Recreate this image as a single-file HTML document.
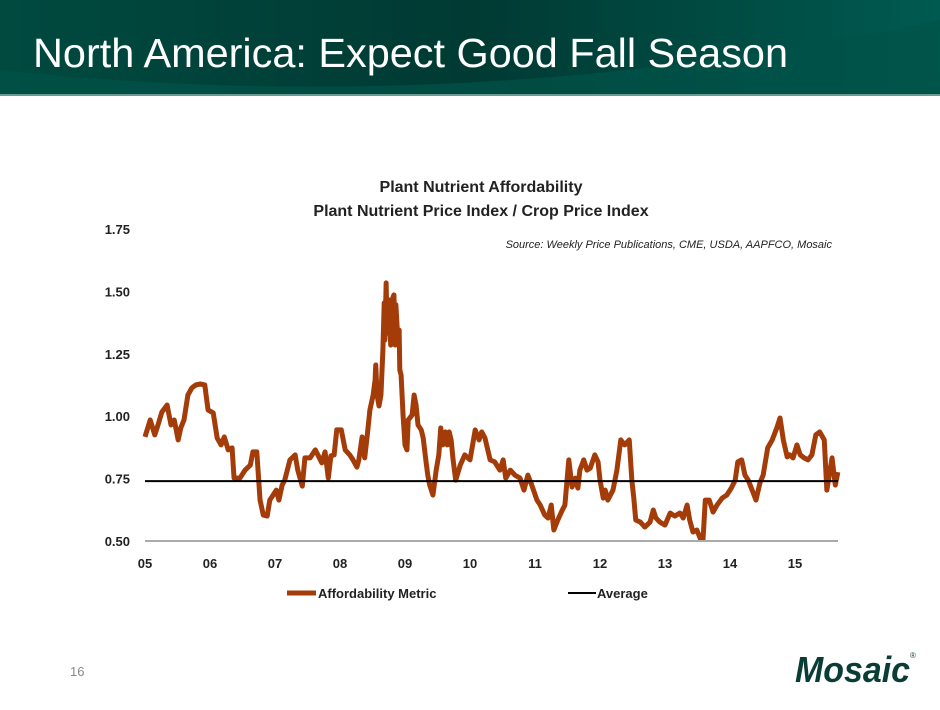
<!DOCTYPE html>
<html><head><meta charset="utf-8"><style>
body{margin:0;width:940px;height:705px;overflow:hidden;background:#fff;font-family:"Liberation Sans",sans-serif;}
</style></head><body>
<svg width="940" height="705" viewBox="0 0 940 705" xmlns="http://www.w3.org/2000/svg">
<defs><linearGradient id="hg" x1="0" y1="0" x2="1" y2="0"><stop offset="0" stop-color="#004a40"/><stop offset="0.5" stop-color="#003a33"/><stop offset="1" stop-color="#005a50"/></linearGradient></defs>
<g>
<rect x="0" y="0" width="940" height="95" fill="url(#hg)"/>
<path d="M0,70 Q470,120 940,20 L940,95 L0,95 Z" fill="#005248" opacity="0.7"/>
<rect x="0" y="94" width="940" height="2" fill="#6a9a94"/>
<text x="33" y="67" fill="#fff" font-size="41" textLength="755" lengthAdjust="spacingAndGlyphs">North America: Expect Good Fall Season</text>
</g>
<text x="481" y="192" text-anchor="middle" font-size="16" font-weight="bold" fill="#222">Plant Nutrient Affordability</text>
<text x="481" y="216" text-anchor="middle" font-size="16" font-weight="bold" fill="#222">Plant Nutrient Price Index / Crop Price Index</text>
<text x="832" y="248" text-anchor="end" font-size="11" font-style="italic" fill="#222">Source: Weekly Price Publications, CME, USDA, AAPFCO, Mosaic</text>
<g id="chart"></g>
<g>
<line x1="287" y1="593" x2="316" y2="593" stroke="#a43c0a" stroke-width="5"/>
<text x="318" y="598" font-size="13" font-weight="bold" fill="#222">Affordability Metric</text>
<line x1="568" y1="593" x2="596" y2="593" stroke="#000" stroke-width="2"/>
<text x="597" y="598" font-size="13" font-weight="bold" fill="#222">Average</text>
</g>
<text x="70" y="676" font-size="13" fill="#888">16</text>
<g>
<text x="795" y="682" font-size="36" font-weight="bold" font-style="italic" fill="#0a3d36" textLength="115" lengthAdjust="spacingAndGlyphs">Mosaic</text>
<text x="910" y="658" font-size="8" fill="#0a3d36">®</text>
</g>
</svg>
<script>
const years=[5.00,5.08,5.15,5.20,5.26,5.34,5.40,5.45,5.51,5.55,5.60,5.66,5.72,5.78,5.85,5.92,5.97,6.05,6.11,6.17,6.22,6.28,6.34,6.37,6.46,6.54,6.62,6.66,6.72,6.77,6.82,6.88,6.92,6.97,7.02,7.06,7.11,7.15,7.23,7.31,7.35,7.42,7.46,7.54,7.62,7.66,7.72,7.77,7.82,7.86,7.91,7.95,8.02,8.08,8.15,8.20,8.26,8.29,8.34,8.38,8.42,8.46,8.51,8.54,8.55,8.57,8.60,8.63,8.66,8.68,8.69,8.71,8.72,8.74,8.75,8.78,8.80,8.83,8.85,8.86,8.89,8.91,8.92,8.94,8.97,9.00,9.03,9.05,9.11,9.14,9.17,9.20,9.25,9.28,9.32,9.35,9.38,9.43,9.48,9.52,9.55,9.58,9.62,9.65,9.68,9.71,9.74,9.78,9.85,9.92,10.00,10.08,10.14,10.18,10.23,10.31,10.38,10.46,10.51,10.55,10.62,10.69,10.77,10.83,10.89,10.95,11.03,11.08,11.15,11.20,11.25,11.29,11.35,11.42,11.46,11.52,11.57,11.62,11.66,11.69,11.75,11.80,11.85,11.92,11.97,12.00,12.05,12.08,12.12,12.20,12.26,12.32,12.38,12.45,12.49,12.52,12.55,12.62,12.69,12.77,12.82,12.86,12.92,13.00,13.08,13.15,13.23,13.28,13.34,13.38,13.43,13.49,13.54,13.58,13.62,13.68,13.74,13.80,13.88,13.95,14.02,14.08,14.12,14.18,14.23,14.28,14.34,14.40,14.46,14.51,14.58,14.65,14.72,14.77,14.82,14.88,14.92,14.97,15.03,15.08,15.14,15.20,15.26,15.32,15.38,15.45,15.49,15.57,15.62,15.66];
const metric=[0.917,0.985,0.925,0.965,1.017,1.045,0.965,0.985,0.905,0.953,0.985,1.085,1.113,1.125,1.129,1.125,1.025,1.013,0.913,0.885,0.917,0.865,0.873,0.752,0.752,0.784,0.804,0.857,0.857,0.664,0.604,0.600,0.664,0.684,0.704,0.664,0.724,0.744,0.825,0.845,0.784,0.720,0.833,0.833,0.865,0.845,0.813,0.857,0.752,0.841,0.845,0.945,0.945,0.865,0.845,0.825,0.796,0.825,0.917,0.833,0.925,1.025,1.085,1.145,1.205,1.085,1.041,1.085,1.265,1.454,1.305,1.534,1.393,1.333,1.466,1.285,1.466,1.486,1.285,1.446,1.305,1.345,1.185,1.165,1.005,0.885,0.865,0.985,1.005,1.085,1.045,0.965,0.945,0.913,0.825,0.764,0.724,0.684,0.784,0.845,0.953,0.885,0.937,0.885,0.937,0.905,0.825,0.744,0.804,0.845,0.825,0.945,0.905,0.937,0.913,0.825,0.817,0.784,0.825,0.752,0.784,0.764,0.752,0.704,0.764,0.724,0.664,0.644,0.604,0.592,0.644,0.544,0.584,0.624,0.644,0.825,0.716,0.752,0.712,0.784,0.825,0.784,0.792,0.845,0.817,0.744,0.672,0.704,0.664,0.704,0.784,0.905,0.885,0.905,0.744,0.672,0.584,0.576,0.556,0.576,0.624,0.592,0.576,0.564,0.612,0.600,0.612,0.592,0.644,0.584,0.536,0.544,0.512,0.484,0.664,0.664,0.616,0.644,0.672,0.684,0.712,0.744,0.817,0.825,0.764,0.744,0.704,0.664,0.732,0.764,0.873,0.905,0.953,0.993,0.905,0.837,0.845,0.833,0.885,0.845,0.833,0.825,0.845,0.925,0.937,0.905,0.704,0.833,0.724,0.776];
const average=0.74;
const yTicks=[0.50,0.75,1.00,1.25,1.50,1.75];
const xTicks=[5,6,7,8,9,10,11,12,13,14,15];
const xLabels=["05","06","07","08","09","10","11","12","13","14","15"];
const NS="http://www.w3.org/2000/svg";
const X=v=>145+(v-5)*65, Y=v=>541-(v-0.5)*249.6;
const g=document.getElementById('chart');
function mk(t,a){const e=document.createElementNS(NS,t);for(const k in a)e.setAttribute(k,a[k]);g.appendChild(e);return e;}
yTicks.forEach(t=>{const e=mk('text',{x:130,y:Y(t)+5,'text-anchor':'end','font-size':13,'font-weight':'bold',fill:'#222'});e.textContent=t.toFixed(2);

});
xTicks.forEach((t,i)=>{const e=mk('text',{x:X(t),y:568,'text-anchor':'middle','font-size':13,'font-weight':'bold',fill:'#222'});e.textContent=xLabels[i];

});
const ax=mk('line',{x1:145,y1:541,x2:838,y2:541,stroke:'#aaa','stroke-width':2});


const cp=mk('clipPath',{id:'cp'});const r=document.createElementNS(NS,'rect');r.setAttribute('x',140);r.setAttribute('y',220);r.setAttribute('width',705);r.setAttribute('height',320);cp.appendChild(r);
const ln=mk('polyline',{points:years.map((y,i)=>X(y)+','+Y(metric[i])).join(' '),fill:'none',stroke:'#a43c0a','stroke-width':5,'stroke-linejoin':'round','clip-path':'url(#cp)'});


const av=mk('line',{x1:145,y1:Y(average),x2:838,y2:Y(average),stroke:'#000','stroke-width':2});


</script>
</body></html>
